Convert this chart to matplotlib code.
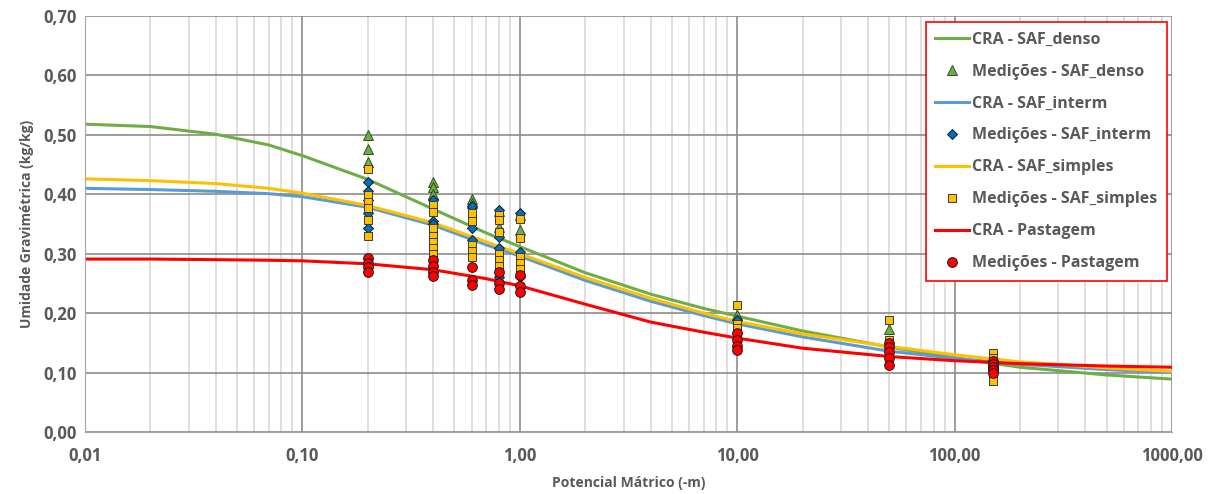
import matplotlib.pyplot as plt
from matplotlib.ticker import FixedLocator, LogLocator, NullFormatter

# Curvas de retenção (CRA)
psi = [0.01, 0.02, 0.04, 0.07, 0.1, 0.2, 0.4, 0.7, 1, 2, 4, 7, 10, 20, 50, 100, 200, 500, 1000]
cra_denso = [0.518, 0.514, 0.501, 0.483, 0.465, 0.425, 0.375, 0.335, 0.312, 0.268, 0.232, 0.208,
             0.195, 0.170, 0.143, 0.125, 0.109, 0.096, 0.089]
cra_interm = [0.410, 0.408, 0.405, 0.401, 0.396, 0.378, 0.348, 0.315, 0.296, 0.255, 0.220, 0.196,
              0.182, 0.160, 0.136, 0.124, 0.114, 0.105, 0.100]
cra_simples = [0.426, 0.423, 0.418, 0.410, 0.402, 0.381, 0.352, 0.320, 0.300, 0.260, 0.225, 0.200,
               0.186, 0.165, 0.144, 0.130, 0.118, 0.108, 0.102]
cra_pastagem = [0.291, 0.291, 0.290, 0.289, 0.288, 0.283, 0.273, 0.258, 0.246, 0.215, 0.185, 0.168,
                0.158, 0.141, 0.127, 0.120, 0.115, 0.111, 0.109]

# Medições
med_denso_x = [0.2, 0.2, 0.2, 0.4, 0.4, 0.4, 0.6, 0.6, 0.8, 0.8, 1.0, 1.0, 10, 50, 150]
med_denso_y = [0.500, 0.476, 0.455, 0.420, 0.413, 0.400, 0.392, 0.386, 0.372, 0.345, 0.365, 0.340,
               0.197, 0.174, 0.115]

med_interm_x = [0.2, 0.2, 0.2, 0.2, 0.2, 0.4, 0.4, 0.4, 0.6, 0.6, 0.6, 0.8, 0.8, 0.8, 0.8,
                1.0, 1.0, 1.0, 10, 50, 150]
med_interm_y = [0.420, 0.405, 0.390, 0.368, 0.344, 0.390, 0.355, 0.350, 0.381, 0.343, 0.323,
                0.374, 0.328, 0.310, 0.260, 0.368, 0.303, 0.260, 0.188, 0.145, 0.110]

med_simples_x = [0.2] * 6 + [0.4] * 7 + [0.6] * 5 + [0.8] * 6 + [1.0] * 5 + [10] * 3 + [50] * 3 + [150] * 4
med_simples_y = [0.443, 0.399, 0.387, 0.377, 0.357, 0.329,
                 0.382, 0.370, 0.343, 0.330, 0.320, 0.310, 0.300,
                 0.368, 0.355, 0.315, 0.305, 0.295,
                 0.365, 0.357, 0.337, 0.300, 0.290, 0.280,
                 0.358, 0.326, 0.295, 0.285, 0.275,
                 0.214, 0.182, 0.175,
                 0.188, 0.155, 0.150,
                 0.133, 0.125, 0.095, 0.085]

med_pastagem_x = [0.2] * 4 + [0.4] * 4 + [0.6] * 3 + [0.8] * 3 + [1.0] * 3 + [10] * 4 + [50] * 5 + [150] * 5
med_pastagem_y = [0.293, 0.285, 0.277, 0.269,
                  0.289, 0.280, 0.270, 0.262,
                  0.278, 0.256, 0.248,
                  0.270, 0.250, 0.240,
                  0.264, 0.245, 0.235,
                  0.166, 0.155, 0.145, 0.138,
                  0.150, 0.143, 0.135, 0.125, 0.113,
                  0.120, 0.115, 0.110, 0.105, 0.100]

x_ticks = [0.01, 0.1, 1, 10, 100, 1000]
x_labels = ['0,01', '0,10', '1,00', '10,00', '100,00', '1000,00']
y_ticks = [0.0, 0.1, 0.2, 0.3, 0.4, 0.5, 0.6, 0.7]
y_labels = ['0,00', '0,10', '0,20', '0,30', '0,40', '0,50', '0,60', '0,70']

cinza = '#595959'
plt.rcParams['font.family'] = ['Open Sans', 'DejaVu Sans']

fig = plt.figure(figsize=(12.14, 4.94), dpi=100)
ax = fig.add_axes([0.070, 0.1255, 0.8954, 0.8421])

ax.plot(psi, cra_denso, color='#70AD47', lw=2.2, label='CRA - SAF_denso', zorder=2)
ax.plot(med_denso_x, med_denso_y, ls='none', marker='^', ms=7.5, mfc='#70AD47', mec='#2f4f1f',
        mew=0.7, label='Medições - SAF_denso', zorder=3)
ax.plot(psi, cra_interm, color='#5B9BD5', lw=2.2, label='CRA - SAF_interm', zorder=2)
ax.plot(med_interm_x, med_interm_y, ls='none', marker='D', ms=5.5, mfc='#0070C0', mec='#1a1a1a',
        mew=0.7, label='Medições - SAF_interm', zorder=3)
ax.plot(psi, cra_simples, color='#FFC000', lw=2.2, label='CRA - SAF_simples', zorder=2)
ax.plot(med_simples_x, med_simples_y, ls='none', marker='s', ms=6, mfc='#FFC000', mec='#3a3a3a',
        mew=0.7, label='Medições - SAF_simples', zorder=3)
ax.plot(psi, cra_pastagem, color='#FF0000', lw=2.2, label='CRA - Pastagem', zorder=2)
ax.plot(med_pastagem_x, med_pastagem_y, ls='none', marker='o', ms=7, mfc='#FF0000', mec='#1a1a1a',
        mew=0.7, label='Medições - Pastagem', zorder=3)

ax.set_xscale('log')
ax.set_xlim(0.01, 1000)
ax.set_ylim(0, 0.7)
ax.xaxis.set_major_locator(FixedLocator(x_ticks))
ax.set_xticklabels(x_labels)
ax.xaxis.set_minor_locator(LogLocator(base=10, subs=range(2, 10), numticks=20))
ax.xaxis.set_minor_formatter(NullFormatter())
ax.set_yticks(y_ticks)
ax.set_yticklabels(y_labels)

ax.grid(True, which='minor', axis='x', color='#d9d9d9', lw=1.2, zorder=0)
ax.grid(True, which='major', axis='both', color='#8c8c8c', lw=1.2, zorder=1)
ax.set_axisbelow(True)

for s in ['top', 'right']:
    ax.spines[s].set_visible(False)
for s in ['left', 'bottom']:
    ax.spines[s].set_color('#a6a6a6')
ax.tick_params(which='both', length=0, colors=cinza, labelsize=12)
ax.tick_params(axis='x', pad=11)
ax.tick_params(axis='y', pad=6)
for t in ax.get_xticklabels() + ax.get_yticklabels():
    t.set_fontweight('bold')

ax.set_xlabel('Potencial Mátrico (-m)', color=cinza, fontsize=10, fontweight='bold', labelpad=8)
ax.set_ylabel('Umidade Gravimétrica (kg/kg)', color=cinza, fontsize=10, fontweight='bold', labelpad=7)

leg = ax.legend(loc='upper right', bbox_to_anchor=(0.9954, 0.9856), frameon=True, fancybox=False,
                edgecolor='#FF0000', framealpha=1, prop={'weight': 'bold', 'size': 11.5},
                labelcolor=cinza, handlelength=2.1, handletextpad=0.2, labelspacing=1.0,
                borderpad=0.6, borderaxespad=0)
leg.get_frame().set_linewidth(1.2)
leg.set_zorder(5)

fig.savefig('out.png', dpi=100)
